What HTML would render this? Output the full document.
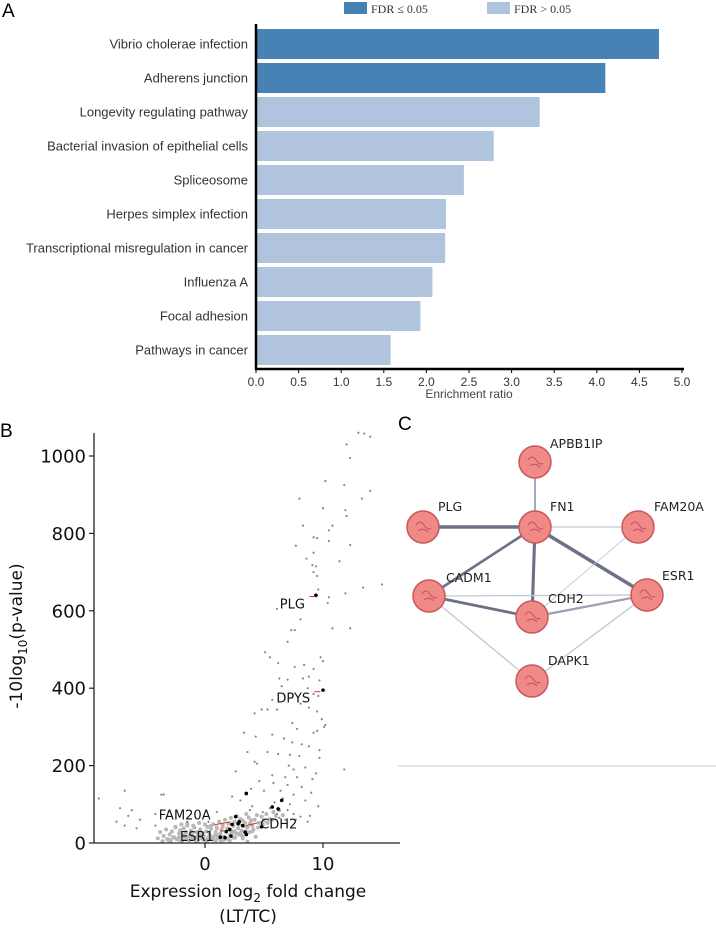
<!DOCTYPE html>
<html><head><meta charset="utf-8">
<style>
html,body{margin:0;padding:0;background:#fff;width:716px;height:933px;overflow:hidden}
svg{display:block}
</style></head>
<body>
<svg id="fig" width="716" height="933" xmlns="http://www.w3.org/2000/svg">
<g id="panelA"></g>
<g id="panelB"></g>
<g id="panelC"></g>
</svg>
<script>
// ---------- Panel A data ----------
const pathways = ["Vibrio cholerae infection","Adherens junction","Longevity regulating pathway","Bacterial invasion of epithelial cells","Spliceosome","Herpes simplex infection","Transcriptional misregulation in cancer","Influenza A","Focal adhesion","Pathways in cancer"];
const ratios = [4.73,4.10,3.33,2.79,2.44,2.23,2.22,2.07,1.93,1.58];
const significant = [true,true,false,false,false,false,false,false,false,false];
const ratioTicks = ["0.0","0.5","1.0","1.5","2.0","2.5","3.0","3.5","4.0","4.5","5.0"];

// ---------- Panel B data ----------
const grayX = [13,13.5,14,12,12.3,10.2,11.8,14,13.3,8,10,11.9,12,8.3,10.8,10.5,9.2,9.5,10.5,12.3,7.7,9.2,8.6,11.4,9.1,9.4,9.2,9.5,15,13.4,9.6,10.5,11.9,10.4,6.1,8.1,7.3,7.6,10.8,12.3,7,5.1,5.5,9.8,10,6.2,7.6,8.4,9.2,6.3,7,8.3,8.8,9.7,6.5,8.7,9.2,9.6,5.7,5.3,6.1,8.1,8.8,4.2,4.8,9.5,9.9,10.2,10.1,7.4,7.8,3.3,5.7,9.2,9.5,4.3,6.7,7.4,8.2,8.8,9.7,3.6,5.3,6.2,7.2,8,9.7,4.2,4.4,7.1,7.5,8.5,9.4,11.8,5.7,6.8,7.8,9.1,2.6,4.6,5.8,7,8.2,9,3.9,5,6.4,7.5,8.5,-9,-6.8,-3.7,-3.5,-7.2,-6.2,-6.5,-4.2,-7.5,-6.8,-5.5,-5.8,-4.2,-1.5,2.3,3,4,5.5,7,7.5,8.7,6.8,6.3,1,0.3,9.6,7.2,6.6,8.9,5.9,4.9,3.8,6.1,7.7,8.1];
const grayY = [1060,1058,1050,1030,995,935,925,910,890,890,865,860,845,820,820,808,790,788,780,770,768,750,735,728,718,715,700,690,668,660,655,635,645,620,605,578,550,550,555,555,520,493,480,480,470,465,455,460,450,425,422,425,430,420,405,400,385,380,370,345,345,360,350,335,345,340,320,305,300,310,295,285,280,285,290,275,270,260,255,250,240,235,235,230,228,225,220,210,205,200,190,195,180,190,175,170,170,165,185,160,155,150,145,130,140,135,135,125,110,115,135,125,125,90,85,70,75,55,45,60,38,45,55,120,110,95,90,85,75,55,60,65,80,55,95,100,115,70,105,80,85,75,60,68];
const clusterX = [-4,-3.8,-3.5,-3.3,-3.1,-3,-2.8,-2.7,-2.5,-2.4,-2.2,-2.1,-2,-1.9,-1.8,-1.7,-1.6,-1.5,-1.4,-1.3,-1.2,-1.1,-1,-0.9,-0.8,-0.7,-0.6,-0.5,-0.4,-0.3,-0.2,-0.1,0,0.1,0.2,0.3,0.4,0.5,0.6,0.7,0.8,0.9,1,1.1,1.2,1.3,1.4,1.5,1.6,1.7,1.8,1.9,2,2.1,2.2,2.3,2.4,2.5,2.6,2.7,2.8,2.9,3,3.1,3.2,3.3,3.4,3.5,3.6,3.7,3.8,3.9,4,4.2,4.4,4.6,4.8,5,5.2,5.5,5.8,6,6.3,6.6,-3.6,-3.2,-2.9,-2.6,-2.3,-1.95,-1.65,-1.35,-1.05,-0.75,-0.45,-0.15,0.15,0.45,0.75,1.05,1.35,1.65,1.95,2.25,2.55,2.85,3.15,3.45,3.75,4.1,4.5,4.9,5.3,5.7,-2.5,-2,-1.5,-1,-0.5,0,0.5,1,1.5,2,2.5,3,3.5,4,-1.8,-1.2,-0.6,0.2,0.9,1.6,2.4,3.2,4.3,-3,-2.2,-1.4,-0.3,0.6,1.3,2.1,2.8,3.6];
const clusterY = [12,28,18,35,8,22,30,15,40,10,25,33,5,20,38,12,28,45,8,18,32,24,10,40,15,28,6,20,35,12,26,18,8,30,42,14,22,36,10,48,18,28,40,12,55,24,34,46,16,60,28,38,50,20,65,30,44,55,25,70,38,48,62,32,58,44,52,75,40,66,50,58,45,60,72,52,68,58,75,62,80,70,85,72,5,10,6,14,9,4,16,7,12,3,18,9,5,15,8,20,6,12,10,25,14,22,18,30,28,35,40,48,52,60,42,48,50,45,52,48,44,38,42,35,30,25,22,30,20,22,25,10,6,8,14,12,16,8,15,18,20,14,10,6,24,4];
const hitX = [9.4,10,3.5,6.5,5.7,6.2,2.6,2.3,2.8,3.2,4.8,1.8,3.4,1.3,1.7,2.2,3.5,2.1,2.9];
const hitY = [640,395,128,110,93,88,68,48,50,45,42,30,28,15,14,18,22,35,55];
const geneLabels = ["PLG","DPYS","FAM20A","CDH2","ESR1"];
const geneX = [9.1,9.6,1.5,4.0,1.6];
const geneY = [637,391,55,50,31];
const yTicks = [0,200,400,600,800,1000];
const xTicks = [0,10];

// ---------- Panel C data ----------
const nodeNames = ["APBB1IP","PLG","FN1","FAM20A","CADM1","CDH2","ESR1","DAPK1"];
const edgeFrom = ["APBB1IP","PLG","FN1","FN1","FN1","FN1","CADM1","CADM1","CADM1","CDH2","FAM20A","ESR1"];
const edgeTo   = ["FN1","FN1","FAM20A","CADM1","CDH2","ESR1","ESR1","CDH2","DAPK1","ESR1","CDH2","DAPK1"];
const edgeWeight = [2,4,1.5,3,3.5,4,1.5,3,1.5,2.5,1,1.5];

const NS="http://www.w3.org/2000/svg";
function mk(parent,tag,attrs,txt){const e=document.createElementNS(NS,tag);for(const k in attrs)e.setAttribute(k,attrs[k]);if(txt!==undefined)e.textContent=txt;parent.appendChild(e);return e;}
const SANS='"Liberation Sans", "DejaVu Sans", sans-serif';
const DJ='"DejaVu Sans", "Liberation Sans", sans-serif';

// ===== Panel A =====
(function(){
const g=document.getElementById('panelA');
const x0=256, pxPer=85.2, top=29, row=34, bh=30, axisY=369;
const xA=v=>x0+v*pxPer;
let t=mk(g,'text',{x:2,y:17,'font-size':19,'font-family':SANS});t.textContent='A';


let r=mk(g,'rect',{x:344,y:2,width:23,height:12,fill:'#4682b4'});

t=mk(g,'text',{x:371,y:13,'font-size':12,'font-family':'"Liberation Serif", serif',fill:'#333'},'FDR ≤ 0.05');

r=mk(g,'rect',{x:487,y:2,width:23,height:12,fill:'#b0c4de'});

t=mk(g,'text',{x:514,y:13,'font-size':12,'font-family':'"Liberation Serif", serif',fill:'#333'},'FDR > 0.05');

pathways.forEach((p,i)=>{
  const y=top+i*row;
  const b=mk(g,'rect',{x:x0,y:y,width:xA(ratios[i])-x0,height:bh,fill:significant[i]?'#4682b4':'#b0c4de'});
  
  
  const l=mk(g,'text',{x:248,y:y+bh/2+4.5,'text-anchor':'end','font-size':13,'font-family':SANS,fill:'#333'},p);
  
  
});
let a=mk(g,'line',{x1:x0,y1:24,x2:x0,y2:axisY+1,stroke:'#000','stroke-width':2.5});

a=mk(g,'line',{x1:x0-1,y1:axisY,x2:xA(5)+2,y2:axisY,stroke:'#000','stroke-width':2.5});

ratioTicks.forEach(s=>{
  const x=xA(parseFloat(s));
  const tk=mk(g,'line',{x1:x,y1:axisY,x2:x,y2:axisY+4,stroke:'#000','stroke-width':1});
  
  const tl=mk(g,'text',{x:x,y:axisY+17,'text-anchor':'middle','font-size':12,'font-family':SANS,fill:'#333'},s);
  
});
t=mk(g,'text',{x:xA(2.5),y:axisY+29,'text-anchor':'middle','font-size':12,'font-family':SANS,fill:'#444'},'Enrichment ratio');

})();

// ===== Panel B =====
(function(){
const g=document.getElementById('panelB');
const x0=205, xs=11.8, y0=843, ys=0.387;
const X=v=>x0+v*xs, Y=v=>y0-v*ys;
let t=mk(g,'text',{x:0,y:437,'font-size':19,'font-family':SANS},'B');

clusterX.forEach((v,i)=>{const c=mk(g,'circle',{cx:X(v),cy:Y(clusterY[i]),r:2,fill:'#b8b8b8'});
});
grayX.forEach((v,i)=>{const c=mk(g,'circle',{cx:X(v),cy:Y(grayY[i]),r:1.1,fill:'#888'});
});
hitX.forEach((v,i)=>{const c=mk(g,'circle',{cx:X(v),cy:Y(hitY[i]),r:1.8,fill:'#000'});
});
const off=[[-20,7,-3,0],[-25,6,-4,0],[-38,-7,-8,3],[8,0,-6,2],[-27,5,-4,0]];
geneLabels.forEach((n,i)=>{
  const x=X(geneX[i]),y=Y(geneY[i]);
  const ln=mk(g,'line',{x1:x+off[i][2],y1:y+off[i][3],x2:x+off[i][2]+(i==2?16:i==3?12:6),y2:y+off[i][3]+(i==2?-3:i==3?-3:0),stroke:'#e0302a','stroke-width':1});
  
  const tx=mk(g,'text',{x:x+off[i][0],y:y+off[i][1]+5,'text-anchor':i==3?'start':'middle','font-size':13,'font-family':DJ,fill:'#111'},n);
  
});
let a=mk(g,'line',{x1:94,y1:433,x2:94,y2:843,stroke:'#222','stroke-width':1.3});

a=mk(g,'line',{x1:94,y1:843,x2:400,y2:843,stroke:'#222','stroke-width':1.3});

yTicks.forEach(v=>{
  const tk=mk(g,'line',{x1:89,y1:Y(v),x2:94,y2:Y(v),stroke:'#222','stroke-width':1.2});
  
  const tl=mk(g,'text',{x:86,y:Y(v)+6.5,'text-anchor':'end','font-size':18,'font-family':DJ,fill:'#111'},String(v));
  
});
xTicks.forEach(v=>{
  const tk=mk(g,'line',{x1:X(v),y1:843,x2:X(v),y2:848,stroke:'#222','stroke-width':1.2});
  
  const tl=mk(g,'text',{x:X(v),y:870,'text-anchor':'middle','font-size':18,'font-family':DJ,fill:'#111'},String(v));
  
});
t=mk(g,'text',{x:248,y:897,'text-anchor':'middle','font-size':17,'font-family':DJ,fill:'#111'});
t.innerHTML='Expression log<tspan font-size="12" dy="5">2</tspan><tspan dy="-5"> fold change</tspan>';

t=mk(g,'text',{x:248,y:922,'text-anchor':'middle','font-size':17,'font-family':DJ,fill:'#111'},'(LT/TC)');

t=mk(g,'text',{x:0,y:0,'text-anchor':'middle','font-size':17,'font-family':DJ,fill:'#111',transform:'translate(22,636) rotate(-90)'});
t.innerHTML='-10log<tspan font-size="12" dy="5">10</tspan><tspan dy="-5">(p-value)</tspan>';

})();

// ===== Panel C =====
(function(){
const g=document.getElementById('panelC');
const pos={APBB1IP:[535,462],PLG:[423,527],FN1:[535,527],FAM20A:[638,527],CADM1:[429,596],CDH2:[532,617],ESR1:[647,595],DAPK1:[532,681]};
const lab={APBB1IP:[550,448],PLG:[438,511],FN1:[550,511],FAM20A:[654,511],CADM1:[446,582],CDH2:[548,603],ESR1:[662,580],DAPK1:[548,665]};
let t=mk(g,'text',{x:398,y:430,'font-size':19,'font-family':SANS},'C');

edgeFrom.forEach((f,i)=>{
  const a=pos[f],b=pos[edgeTo[i]],w=edgeWeight[i];
  const col=w>=3?'#6b7288':w>=2?'#9aa0b4':'#c4c8d6';
  const e=mk(g,'line',{x1:a[0],y1:a[1],x2:b[0],y2:b[1],stroke:col,'stroke-width':w*0.9});
  
  
});
nodeNames.forEach(n=>{
  const p=pos[n];
  const c=mk(g,'circle',{cx:p[0],cy:p[1],r:16,fill:'#f08a86',stroke:'#c8585a','stroke-width':1.5});
  
  
  const s=mk(g,'path',{d:`M${p[0]-7} ${p[1]-2} q4 -6 8 0 t7 3 M${p[0]-5} ${p[1]+4} q5 -4 10 1`,stroke:'#b03060','stroke-width':1,fill:'none',opacity:0.7});
  
  const l=mk(g,'text',{x:lab[n][0],y:lab[n][1],'font-size':12.5,'font-family':DJ,fill:'#222'},n);
  
});
const hl=mk(g,'line',{x1:398,y1:766,x2:716,y2:766,stroke:'#ccc','stroke-width':1});

})();
</script>
</body></html>
